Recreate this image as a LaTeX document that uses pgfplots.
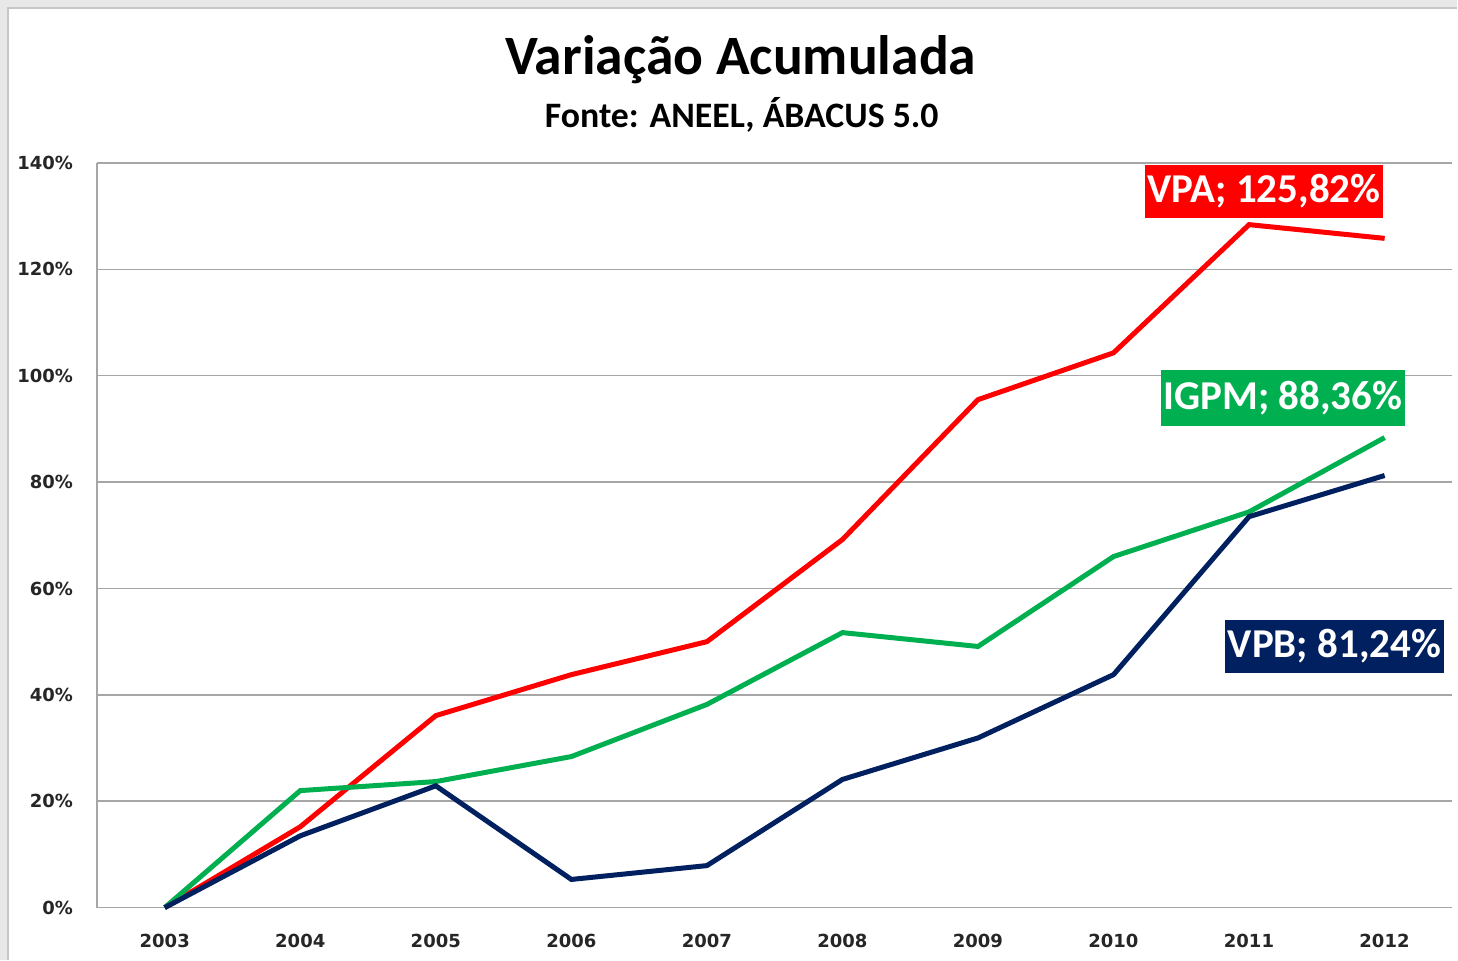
\documentclass[border=0pt]{standalone}
\usepackage{fontspec}
\setmainfont{Carlito}
\newfontfamily\tickfont{DejaVu Sans}
\usepackage{pgfplots}
\pgfplotsset{compat=1.18}
\definecolor{vpa}{HTML}{FF0000}
\definecolor{igpm}{HTML}{00B050}
\definecolor{vpb}{HTML}{002060}
\definecolor{gridc}{HTML}{A6A6A6}
\begin{document}
\begin{tikzpicture}
\fill[gray!18] (0,0) rectangle (729pt,480pt);
\fill[white] (4pt,0) rectangle (729pt,476pt);
\draw[gray!45, line width=0.6pt] (4pt,0) -- (4pt,476pt) -- (729pt,476pt);
\node[font=\bfseries\fontsize{27.8}{32}\selectfont] at (370.5pt,450pt) {Variação Acumulada};
\node[font=\bfseries\fontsize{17.9}{21}\selectfont] at (371pt,422.5pt) {Fonte: ANEEL, ÁBACUS 5.0};
\begin{axis}[
  at={(48.5pt,26pt)}, anchor=south west,
  scale only axis, width=678pt, height=372.5pt,
  xmin=2002.5, xmax=2012.5, ymin=0, ymax=140,
  xtick={2003,...,2012}, ytick={0,20,...,140},
  xticklabels={2003,2004,2005,2006,2007,2008,2009,2010,2011,2012},
  yticklabel={\pgfmathprintnumber{\tick}\%},
  /pgf/number format/assume math mode=true,
  tick style={draw=none},
  ymajorgrids, grid style={gridc, line width=0.75pt},
  axis x line*=bottom, axis y line*=left,
  axis line style={gridc, line width=0.75pt},
  every axis x line/.append style={-},
  every axis y line/.append style={-},
  ticklabel style={font=\tickfont\bfseries\fontsize{9}{11}\selectfont, text=black!85},
  xticklabel style={anchor=center, yshift=-16.5pt},
  yticklabel style={anchor=east, xshift=-8.5pt},
  clip=false,
]
\addplot[vpa, line width=2.5pt] coordinates {(2003,0) (2004,15.2) (2005,36.1) (2006,43.8) (2007,50.0) (2008,69.2) (2009,95.5) (2010,104.3) (2011,128.4) (2012,125.82)};
\addplot[igpm, line width=2.5pt] coordinates {(2003,0) (2004,22.0) (2005,23.7) (2006,28.4) (2007,38.2) (2008,51.7) (2009,49.1) (2010,66.0) (2011,74.4) (2012,88.36)};
\addplot[vpb, line width=2.5pt] coordinates {(2003,0) (2004,13.5) (2005,22.9) (2006,5.3) (2007,7.9) (2008,24.1) (2009,31.9) (2010,43.8) (2011,73.5) (2012,81.24)};
\node[fill=vpa, text=white, font=\bfseries\fontsize{20.5}{24}\selectfont, minimum width=119.5pt, minimum height=26.5pt, inner sep=0pt] at (axis cs:2011.11,134.65) {VPA; 125,82\%};
\node[fill=igpm, text=white, font=\bfseries\fontsize{20.5}{24}\selectfont, minimum width=122.5pt, minimum height=28pt, inner sep=0pt] at (axis cs:2011.25,95.85) {IGPM; 88,36\%};
\node[fill=vpb, text=white, font=\bfseries\fontsize{20.5}{24}\selectfont, minimum width=109.5pt, minimum height=26.5pt, inner sep=0pt] at (axis cs:2011.63,49.15) {VPB; 81,24\%};
\end{axis}
\end{tikzpicture}
\end{document}
